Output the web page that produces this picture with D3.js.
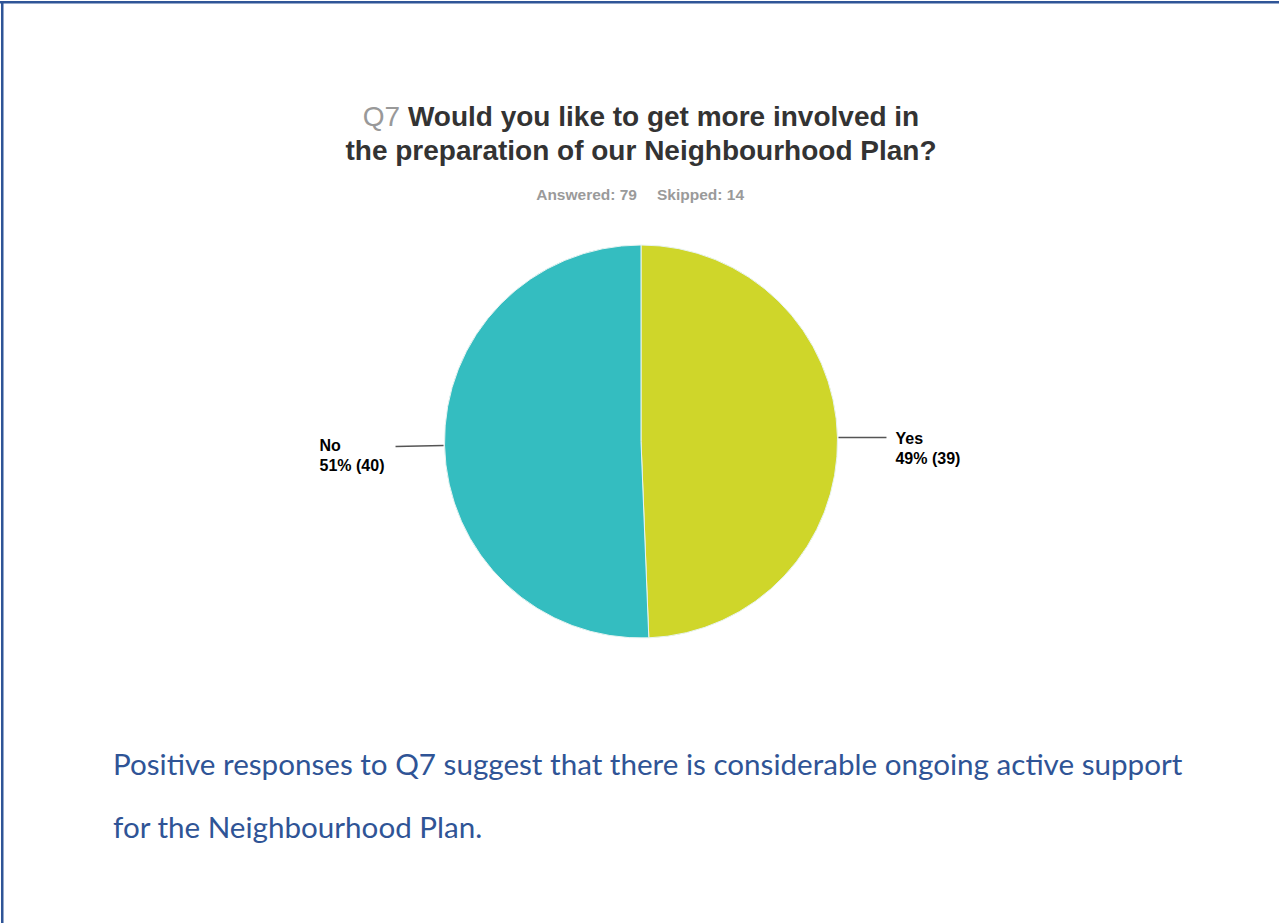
<!DOCTYPE html>
<html>
<head>
<meta charset="utf-8">
<script src="https://cdn.jsdelivr.net/npm/d3@7"></script>
<style>
html,body{margin:0;padding:0;background:#fff;}
svg{display:block;}
</style>
</head>
<body>
<svg id="chart" width="1279" height="923"></svg>
<script>
const categories = ["Yes", "No"];
const counts = [39, 40];
const percentLabels = ["49%", "51%"];
const colors = ["#CFD62A", "#34BDC0"];
const titlePrefix = "Q7";
const titleLines = ["Would you like to get more involved in", "the preparation of our Neighbourhood Plan?"];
const subtitle = ["Answered: 79", "Skipped: 14"];
const bodyLines = ["Positive responses to Q7 suggest that there is considerable ongoing active support", "for the Neighbourhood Plan."];

const svg = d3.select("#chart");

// page border (top and left)
svg.append("rect").attr("x", 0).attr("y", 1).attr("width", 1279).attr("height", 2.5).attr("fill", "#2F5597");
svg.append("rect").attr("x", 1).attr("y", 1).attr("width", 2.5).attr("height", 922).attr("fill", "#2F5597");

const sans = "Liberation Sans, Arial, sans-serif";

// title
const title = svg.append("text")
  .attr("x", 641).attr("y", 126)
  .attr("text-anchor", "middle")
  .attr("font-family", sans)
  .attr("font-weight", "bold")
  .attr("font-size", 28)
  .attr("fill", "#333");
title.append("tspan").attr("fill", "#999").attr("font-weight", "normal").text(titlePrefix + " ");
title.append("tspan").text(titleLines[0]);
svg.append("text")
  .attr("x", 641).attr("y", 160)
  .attr("text-anchor", "middle")
  .attr("font-family", sans)
  .attr("font-weight", "bold")
  .attr("font-size", 28)
  .attr("fill", "#333")
  .text(titleLines[1]);

// subtitle
svg.append("text")
  .attr("x", 637).attr("y", 200)
  .attr("text-anchor", "end")
  .attr("font-family", sans)
  .attr("font-weight", "bold")
  .attr("font-size", 15.5)
  .attr("fill", "#9a9a9a")
  .text(subtitle[0]);
svg.append("text")
  .attr("x", 657).attr("y", 200)
  .attr("text-anchor", "start")
  .attr("font-family", sans)
  .attr("font-weight", "bold")
  .attr("font-size", 15.5)
  .attr("fill", "#9a9a9a")
  .text(subtitle[1]);

// pie
const cx = 641, cy = 441.5, r = 196.5;
const data = categories.map((c, i) => ({cat: c, value: counts[i], pct: percentLabels[i], color: colors[i]}));
const pie = d3.pie().sort(null).value(d => d.value);
const arcs = pie(data);
const arc = d3.arc().innerRadius(0).outerRadius(r);
const g = svg.append("g").attr("transform", `translate(${cx},${cy})`);
g.selectAll("path").data(arcs).join("path")
  .attr("d", arc)
  .attr("fill", d => d.data.color)
  .attr("stroke", "#e8f4f2")
  .attr("stroke-width", 1);

// leader lines and labels
arcs.forEach(a => {
  const mid = (a.startAngle + a.endAngle) / 2;
  const px = Math.sin(mid) * r, py = -Math.cos(mid) * r;
  const right = px > 0;
  const x1 = px + (right ? 1 : -1);
  const x2 = px + (right ? 49 : -49);
  g.append("line")
    .attr("x1", x1).attr("y1", py).attr("x2", x2).attr("y2", py + (right ? 0 : 1))
    .attr("stroke", "#555").attr("stroke-width", 1.5);
  const tx = right ? x2 + 9 : x2 - 76;
  const t = g.append("text")
    .attr("font-family", sans)
    .attr("font-weight", "bold")
    .attr("font-size", 16)
    .attr("fill", "#000");
  const by = py + (right ? 6 : 5.5);
  t.append("tspan").attr("x", tx).attr("y", by).text(a.data.cat);
  t.append("tspan").attr("x", tx).attr("y", by + 20).text(`${a.data.pct} (${a.data.value})`);
});

// body text
const bodyFont = "Lato, 'Open Sans', sans-serif";
[775, 838].forEach((y, i) => {
  svg.append("text")
    .attr("x", 113).attr("y", y)
    .attr("font-family", bodyFont)
    .attr("font-size", 29.6)
    .attr("fill", "#2F5496")
    .text(bodyLines[i]);
});
</script>
</body>
</html>
